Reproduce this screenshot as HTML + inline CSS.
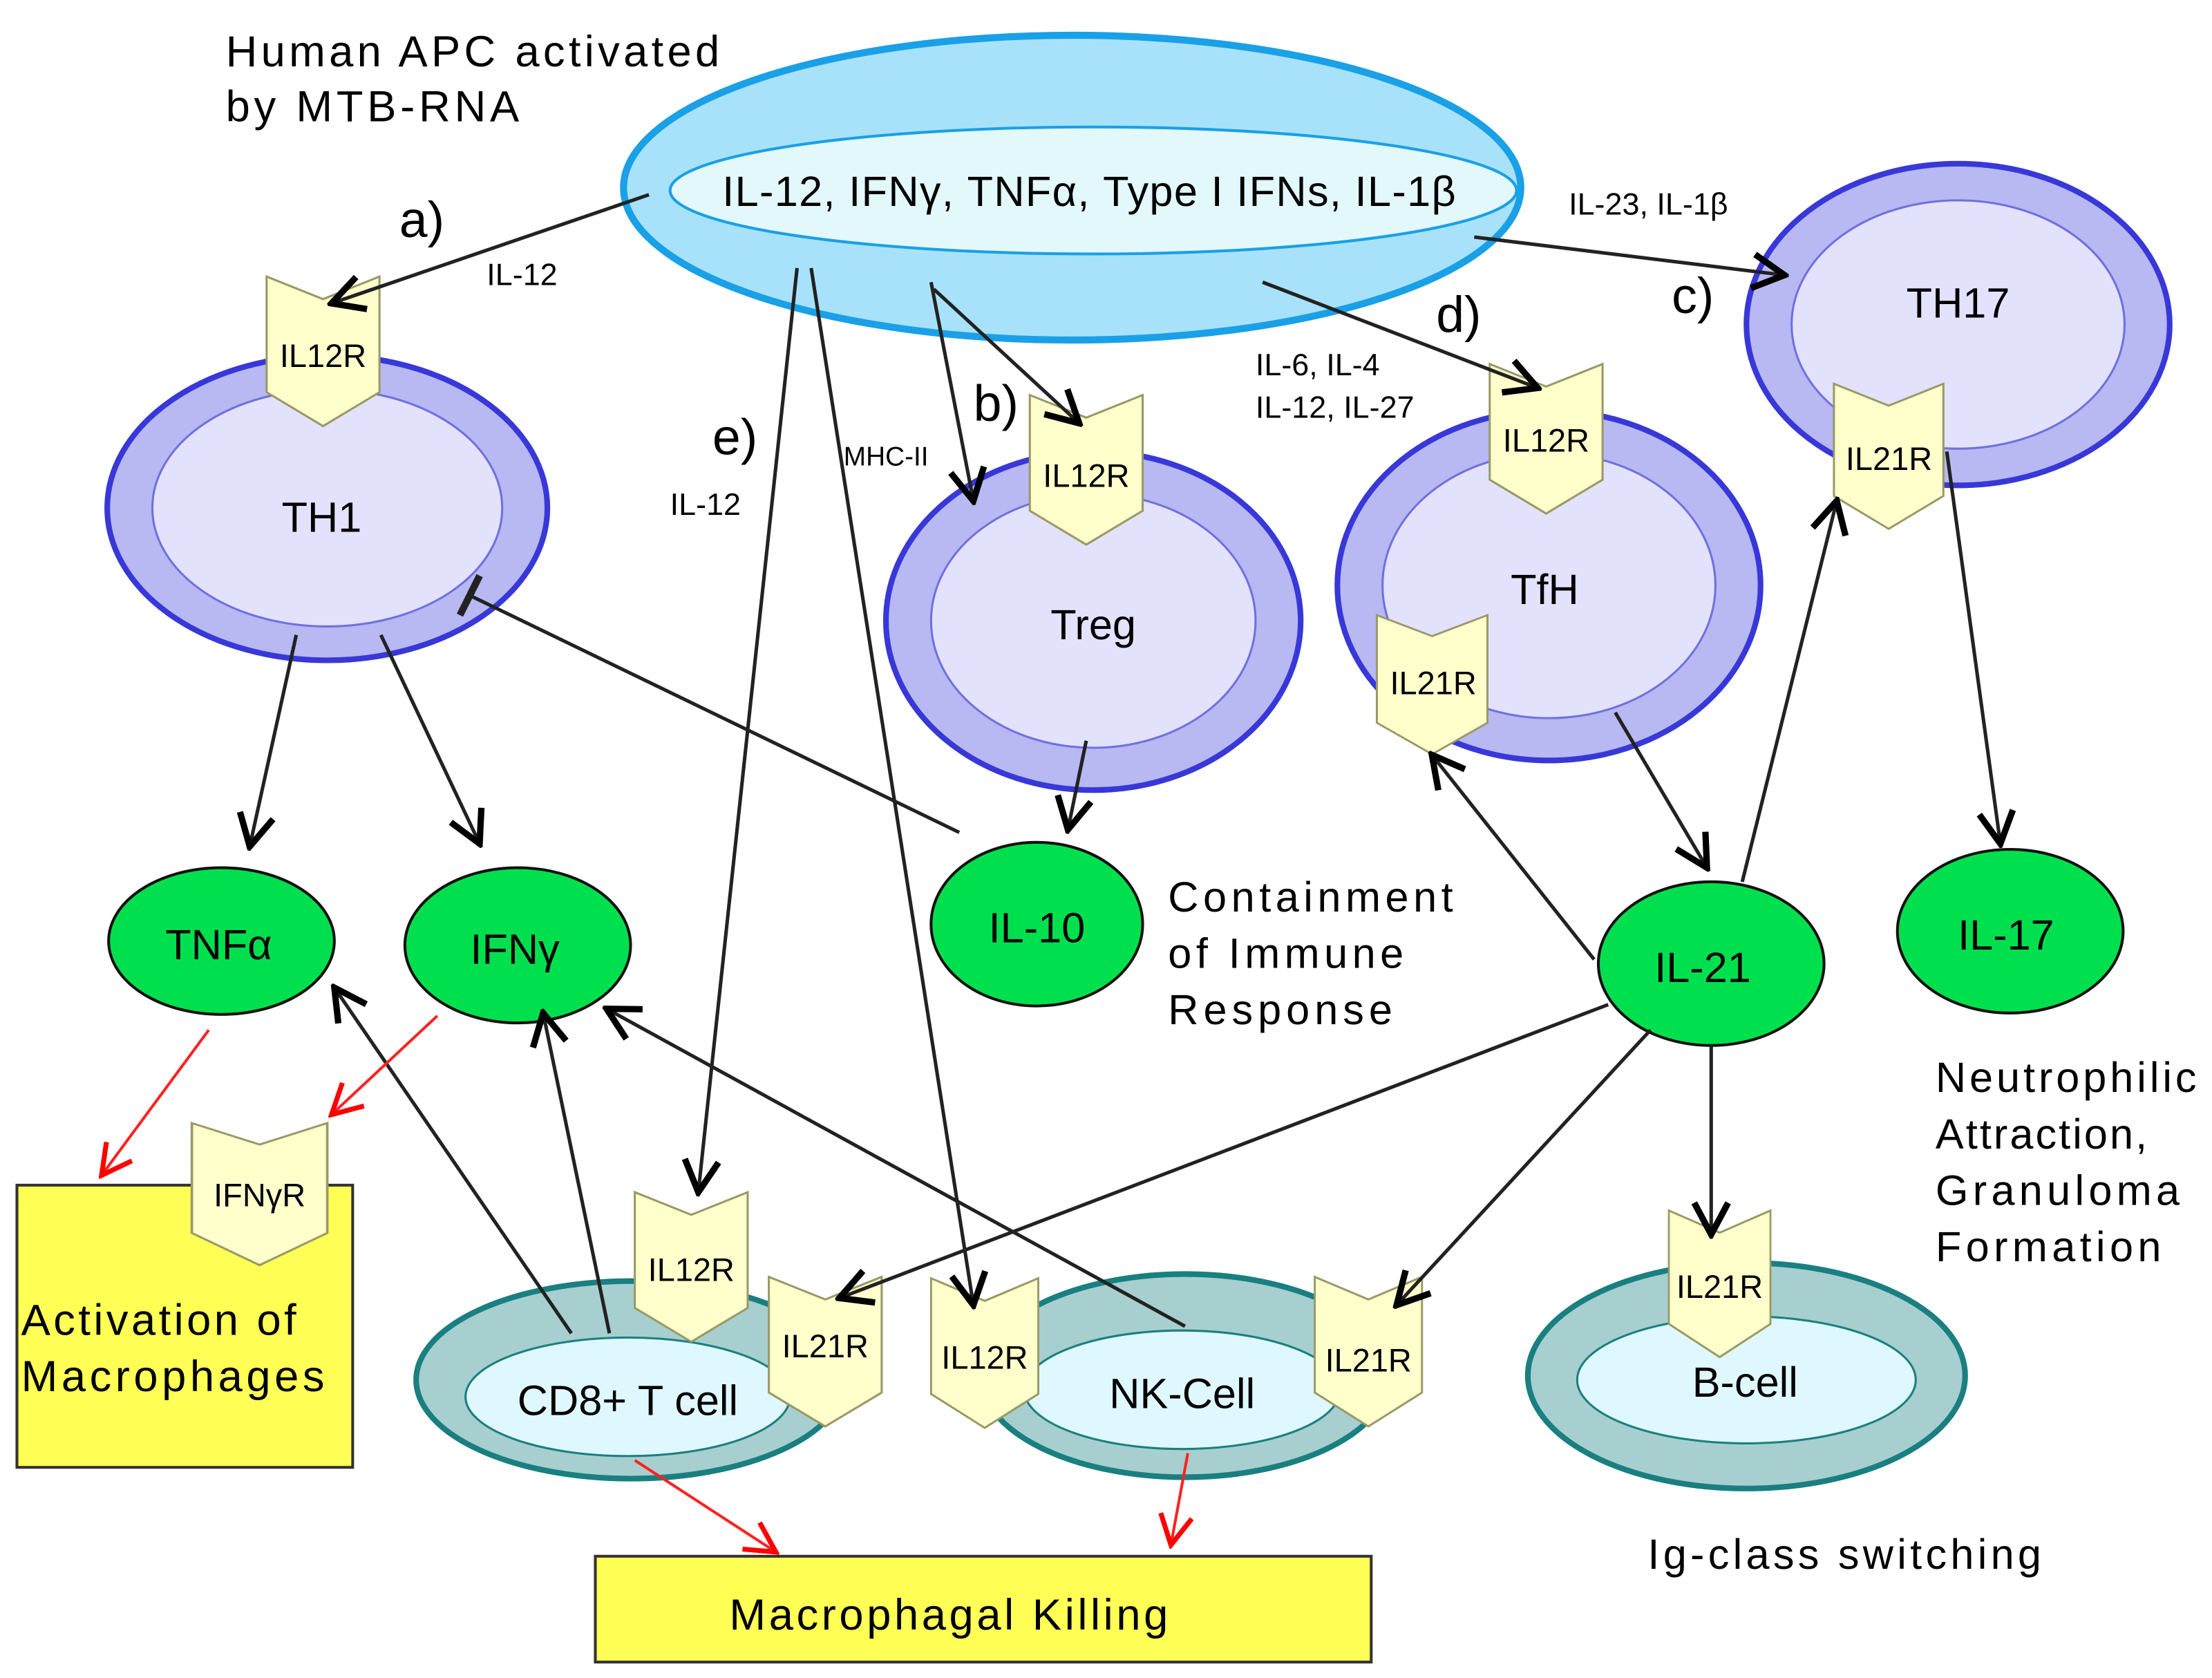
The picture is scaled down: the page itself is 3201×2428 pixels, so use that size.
<!DOCTYPE html>
<html><head><meta charset="utf-8"><style>
html,body{margin:0;padding:0;background:#fff;}
svg{display:block;}
text{font-family:"Liberation Sans",sans-serif;}
</style></head><body>
<svg width="3201" height="2428" viewBox="0 0 1568 1189.3" preserveAspectRatio="none" xmlns="http://www.w3.org/2000/svg">
<defs>
<marker id="ahb" viewBox="0 0 20 20" refX="18" refY="10" markerWidth="30" markerHeight="30" markerUnits="userSpaceOnUse" orient="auto">
<path d="M3,2 L18,10 L3,18" fill="none" stroke="#000" stroke-width="3"/></marker>
<marker id="ahr" viewBox="0 0 20 20" refX="18" refY="10" markerWidth="28" markerHeight="28" markerUnits="userSpaceOnUse" orient="auto">
<path d="M3,2 L18,10 L3,18" fill="none" stroke="#f00" stroke-width="2.5"/></marker>
<g id="rc"><path d="M0,0 L40,16 L80,0 L80,82 L40,106 L0,82 Z" fill="#ffffcc" stroke="#999966" stroke-width="1.5"/></g>
</defs>
<rect width="1568" height="1190" fill="#fff"/>

<!-- APC -->
<ellipse cx="760" cy="133" rx="318" ry="108" fill="#a8e2fa" stroke="#1aa0e6" stroke-width="5"/>
<ellipse cx="775" cy="135" rx="300" ry="45" fill="#e3f8fb" stroke="#1aa0e6" stroke-width="2"/>
<text x="160" y="47" font-size="31" textLength="350">Human APC activated</text>
<text x="160" y="86" font-size="31" textLength="208">by MTB-RNA</text>
<text x="512" y="146" font-size="30" textLength="520">IL-12, IFNγ, TNFα, Type I IFNs,  IL-1β</text>

<!-- TH cells -->
<g stroke="#3838d8" stroke-width="4">
<ellipse cx="232" cy="360" rx="156" ry="108" fill="#b8b8f2"/>
<ellipse cx="775" cy="440" rx="147" ry="120" fill="#b8b8f2"/>
<ellipse cx="1098" cy="415" rx="150" ry="124" fill="#b8b8f2"/>
<ellipse cx="1388" cy="230" rx="150" ry="114" fill="#b8b8f2"/>
</g>
<g stroke="#7070e0" stroke-width="1.5" fill="#e2e2fd">
<ellipse cx="232" cy="360" rx="124" ry="84"/>
<ellipse cx="775" cy="440" rx="115" ry="90"/>
<ellipse cx="1098" cy="415" rx="118" ry="94"/>
<ellipse cx="1388" cy="230" rx="118" ry="88"/>
</g>
<text x="228" y="377" font-size="30" text-anchor="middle">TH1</text>
<text x="775" y="453" font-size="30" text-anchor="middle">Treg</text>
<text x="1095" y="428" font-size="30" text-anchor="middle">TfH</text>
<text x="1388" y="225" font-size="30" text-anchor="middle">TH17</text>

<!-- effector cells -->
<g stroke="#1a7f80" stroke-width="4" fill="#a7cfcf">
<ellipse cx="447" cy="978" rx="152" ry="70"/>
<ellipse cx="840" cy="975" rx="145" ry="72"/>
<ellipse cx="1238" cy="975" rx="155" ry="80"/>
</g>
<g stroke="#1a7f80" stroke-width="1.5" fill="#dff8ff">
<ellipse cx="445" cy="990" rx="115" ry="42"/>
<ellipse cx="838" cy="985" rx="112" ry="42"/>
<ellipse cx="1238" cy="978" rx="120" ry="45"/>
</g>
<text x="445" y="1003" font-size="30" text-anchor="middle">CD8+ T cell</text>
<text x="838" y="998" font-size="30" text-anchor="middle">NK-Cell</text>
<text x="1237" y="990" font-size="30" text-anchor="middle">B-cell</text>

<!-- boxes -->
<rect x="12" y="840" width="238" height="200" fill="#ffff55" stroke="#333" stroke-width="2"/>
<text x="15" y="946" font-size="31" textLength="195">Activation of</text>
<text x="15" y="986" font-size="31" textLength="215">Macrophages</text>
<rect x="422" y="1103" width="550" height="75" fill="#ffff55" stroke="#333" stroke-width="2"/>
<text x="517" y="1155" font-size="31" textLength="311">Macrophagal Killing</text>

<!-- green cytokines -->
<g fill="#00e04e" stroke="#111" stroke-width="2">
<ellipse cx="157" cy="667" rx="80" ry="52"/>
<ellipse cx="367" cy="670" rx="80" ry="55"/>
<ellipse cx="735" cy="655" rx="75" ry="58"/>
<ellipse cx="1213" cy="683" rx="80" ry="58"/>
<ellipse cx="1425" cy="660" rx="80" ry="58"/>
</g>
<text x="155" y="680" font-size="30" text-anchor="middle">TNFα</text>
<text x="365" y="683" font-size="30" text-anchor="middle">IFNγ</text>
<text x="735" y="668" font-size="30" text-anchor="middle">IL-10</text>
<text x="1207" y="696" font-size="30" text-anchor="middle">IL-21</text>
<text x="1422" y="673" font-size="30" text-anchor="middle">IL-17</text>

<!-- receptors -->
<g font-size="23" text-anchor="middle">
<use href="#rc" transform="translate(189,196)"/><text x="229" y="260">IL12R</text>
<use href="#rc" transform="translate(730,280)"/><text x="770" y="345">IL12R</text>
<use href="#rc" transform="translate(1056,258)"/><text x="1096" y="320">IL12R</text>
<use href="#rc" transform="translate(1300,272) scale(0.97,0.97)"/><text x="1339" y="333">IL21R</text>
<use href="#rc" transform="translate(976,436) scale(0.98,0.93)"/><text x="1016" y="492">IL21R</text>
<use href="#rc" transform="translate(136,796) scale(1.2,0.95)"/><text x="184" y="855">IFNγR</text>
<use href="#rc" transform="translate(450,845)"/><text x="490" y="908">IL12R</text>
<use href="#rc" transform="translate(545,905)"/><text x="585" y="962">IL21R</text>
<use href="#rc" transform="translate(660,906) scale(0.95,1)"/><text x="698" y="970">IL12R</text>
<use href="#rc" transform="translate(932,905) scale(0.95,1)"/><text x="970" y="972">IL21R</text>
<use href="#rc" transform="translate(1183,858) scale(0.9,0.98)"/><text x="1219" y="920">IL21R</text>
</g>

<!-- black arrows -->
<g stroke="#222" stroke-width="2.5" fill="none" marker-end="url(#ahb)">
<line x1="460" y1="138" x2="235" y2="215"/>
<line x1="660" y1="200" x2="690" y2="355"/>
<line x1="662" y1="205" x2="765" y2="300"/>
<line x1="895" y1="200" x2="1090" y2="275"/>
<line x1="1045" y1="168" x2="1265" y2="195"/>
<line x1="565" y1="190" x2="495" y2="845"/>
<line x1="575" y1="190" x2="690" y2="925"/>
<line x1="210" y1="450" x2="177" y2="600"/>
<line x1="270" y1="450" x2="340" y2="598"/>
<line x1="770" y1="525" x2="757" y2="588"/>
<line x1="1145" y1="505" x2="1210" y2="615"/>
<line x1="1130" y1="680" x2="1015" y2="535"/>
<line x1="1235" y1="625" x2="1302" y2="355"/>
<line x1="1380" y1="320" x2="1418" y2="598"/>
<line x1="1140" y1="712" x2="595" y2="920"/>
<line x1="1170" y1="730" x2="990" y2="925"/>
<line x1="1213" y1="740" x2="1213" y2="875"/>
<line x1="405" y1="945" x2="237" y2="700"/>
<line x1="432" y1="945" x2="385" y2="718"/>
<line x1="840" y1="940" x2="430" y2="715"/>
</g>
<line x1="680" y1="590" x2="333" y2="422" stroke="#222" stroke-width="2.5"/>
<line x1="326" y1="436" x2="340" y2="408" stroke="#222" stroke-width="5"/>

<!-- red arrows -->
<g stroke="#f22" stroke-width="2" fill="none" marker-end="url(#ahr)">
<line x1="148" y1="730" x2="72" y2="833"/>
<line x1="310" y1="720" x2="235" y2="790"/>
<line x1="450" y1="1035" x2="550" y2="1100"/>
<line x1="842" y1="1030" x2="830" y2="1095"/>
</g>

<!-- labels -->
<text x="283" y="168" font-size="36">a)</text>
<text x="690" y="298" font-size="36">b)</text>
<text x="1185" y="222" font-size="36">c)</text>
<text x="1018" y="235" font-size="36">d)</text>
<text x="505" y="322" font-size="36">e)</text>
<g font-size="22">
<text x="345" y="202">IL-12</text>
<text x="1112" y="152">IL-23, IL-1β</text>
<text x="890" y="266">IL-6, IL-4</text>
<text x="890" y="296">IL-12, IL-27</text>
<text x="598" y="330" font-size="19">MHC-II</text>
<text x="475" y="365">IL-12</text>
</g>
<g font-size="30">
<text x="828" y="646" textLength="202">Containment</text>
<text x="828" y="686" textLength="167">of Immune</text>
<text x="828" y="726" textLength="159">Response</text>
<text x="1372" y="774" textLength="185">Neutrophilic</text>
<text x="1372" y="814" textLength="150">Attraction,</text>
<text x="1372" y="854" textLength="173">Granuloma</text>
<text x="1372" y="894" textLength="160">Formation</text>
<text x="1168" y="1112" textLength="279">Ig-class switching</text>
</g>
</svg>
</body></html>
